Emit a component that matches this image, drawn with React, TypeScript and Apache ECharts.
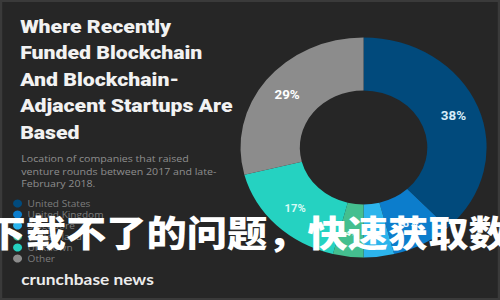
import React, { useEffect, useRef } from 'react';
import * as echarts from 'echarts';

const categories = ['United States', 'United Kingdom', 'Singapore', 'Switzerland', 'Unknown', 'Other'];
const shares = [38, 8, 4, 4, 17, 29];
const sliceColors = ['#014a7c', '#0c7dcc', '#2cb4ec', '#44bf8f', '#25d2c1', '#8c8c8c'];
const labelSizes = [12, 10, 8, 8, 10, 12];
const labelColors = ['#d6ecf8', '#e8f4ff', '#e8f8ff', '#e8fff4', '#d8faf5', '#ffffff'];
const titleLines = ['Where Recently', 'Funded Blockchain', 'And Blockchain-', 'Adjacent Startups Are', 'Based'];
const subtitleLines = ['Location of companies that raised', 'venture rounds between 2017 and late-', 'February 2018.'];
const overlayText = '下载不了的问题，快速获取数';
const brandText = 'crunchbase news';

const STRETCH = 1.1186;
const W = 500 / STRETCH;

export default function App() {
  const ref = useRef<HTMLDivElement>(null);
  useEffect(() => {
    if (!ref.current) return;
    const chart = echarts.init(ref.current, undefined, { renderer: 'svg' });
    chart.setOption({
      animation: false,
      backgroundColor: '#262626',
      title: [
        {
          text: titleLines.join('\n'),
          left: 13,
          top: 8,
          textStyle: {
            color: '#f2f2f2',
            fontFamily: 'Roboto',
            fontWeight: 900,
            fontSize: 19,
            lineHeight: 26.5,
          },
        },
        {
          text: subtitleLines.join('\n'),
          left: 14,
          top: 147,
          textStyle: {
            color: '#8e8e8e',
            fontFamily: 'Open Sans',
            fontWeight: 'normal',
            fontSize: 9.5,
            lineHeight: 12.5,
          },
        },
        {
          text: brandText,
          left: 14,
          top: 266,
          textStyle: {
            color: '#ececec',
            fontFamily: 'Lato',
            fontWeight: 'bold',
            fontSize: 15.5,
          },
        },
      ],
      legend: {
        orient: 'vertical',
        left: 6.7,
        top: 193,
        icon: 'circle',
        itemWidth: 8,
        itemHeight: 8,
        itemGap: 0,
        selectedMode: false,
        data: categories,
        textStyle: {
          color: '#7d7d7d',
          fontFamily: 'Open Sans',
          fontSize: 9,
          lineHeight: 11,
          padding: [0, 0, 0, 0],
        },
      },
      graphic: [
        {
          type: 'rect',
          silent: true,
          shape: { x: 1, y: 1, width: W - 2, height: 298 },
          style: { fill: 'none', stroke: '#3a3a3a', lineWidth: 2 },
          z: 0,
        },
        {
          type: 'text',
          silent: true,
          x: -13,
          y: 231,
          z: 100,
          style: {
            text: overlayText,
            fill: '#ffffff',
            font: '900 36px "Noto Sans CJK SC"',
            verticalAlign: 'middle',
            shadowBlur: 2,
            shadowColor: 'rgba(0,0,0,0.6)',
          },
        },
      ],
      series: [
        {
          type: 'pie',
          center: [325, 147.5],
          radius: [57, 110],
          startAngle: 90,
          clockwise: true,
          avoidLabelOverlap: false,
          labelLine: { show: false },
          itemStyle: { borderWidth: 0 },
          emphasis: { disabled: true },
          data: categories.map((name, i) => ({
            name,
            value: shares[i],
            itemStyle: { color: sliceColors[i] },
            label: {
              show: true,
              position: 'inside',
              formatter: '{c}%',
              color: labelColors[i],
              fontFamily: 'Roboto',
              fontWeight: 'bold',
              fontSize: labelSizes[i],
            },
          })),
        },
      ],
    });
    return () => chart.dispose();
  }, []);
  return (
    <div
      style={{
        position: 'fixed',
        left: 0,
        top: 0,
        width: 500,
        height: 300,
        overflow: 'hidden',
        background: '#262626',
      }}
    >
      <div
        ref={ref}
        style={{
          width: W,
          height: 300,
          transform: `scaleX(${STRETCH})`,
          transformOrigin: '0 0',
        }}
      />
    </div>
  );
}
